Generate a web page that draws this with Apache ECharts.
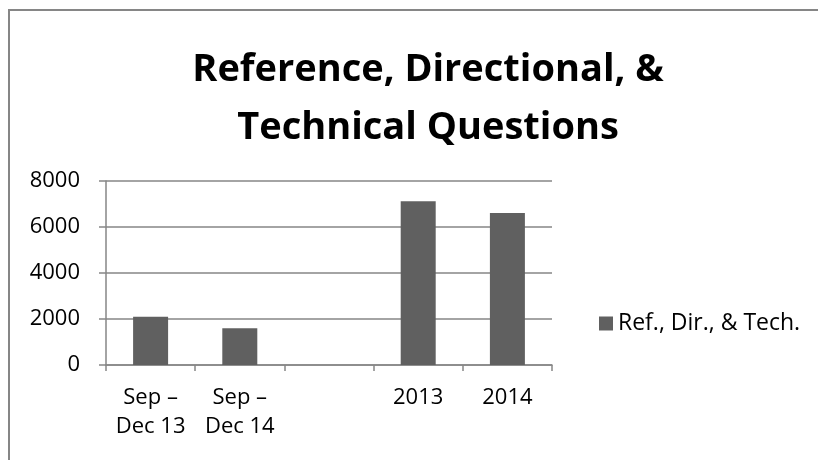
<!DOCTYPE html>
<html>
<head>
<meta charset="utf-8">
<script src="https://cdn.jsdelivr.net/npm/echarts@6/dist/echarts.min.js"></script>
<style>
  html, body { margin: 0; padding: 0; background: #fff; }
  #chart { width: 818px; height: 460px; }
</style>
</head>
<body>
<div id="chart"></div>
<script>
// chart data
const categories = ['Sep –\nDec 13', 'Sep –\nDec 14', '', '2013', '2014'];
const questions = [2100, 1600, '-', 7120, 6610];
const seriesName = 'Ref., Dir., & Tech.';
const titleText = 'Reference, Directional, &\nTechnical Questions';

const font = '"Open Sans", Lato, sans-serif';
const gray = '#868686';

const chart = echarts.init(document.getElementById('chart'));
chart.setOption({
  animation: false,
  title: {
    text: titleText,
    left: 423,
    top: 36,
    textAlign: 'center',
    textStyle: {
      fontFamily: font,
      fontWeight: 'bold',
      fontSize: 38,
      lineHeight: 58,
      color: '#000'
    }
  },
  legend: {
    left: 594,
    top: 307,
    itemWidth: 14,
    itemHeight: 14,
    itemGap: 6,
    icon: 'rect',
    textStyle: { fontFamily: font, fontSize: 23, color: '#000' },
    data: [seriesName]
  },
  grid: { left: 106, right: 266, top: 181, bottom: 95 },
  xAxis: {
    type: 'category',
    data: categories,
    axisLine: { lineStyle: { color: gray, width: 1.5 } },
    axisTick: { show: true, length: 6, lineStyle: { color: gray, width: 1.5 } },
    axisLabel: {
      interval: 0,
      margin: 18,
      fontFamily: font,
      fontSize: 22,
      lineHeight: 29,
      color: '#000'
    }
  },
  yAxis: {
    type: 'value',
    min: 0,
    max: 8000,
    interval: 2000,
    axisLine: { show: true, lineStyle: { color: gray, width: 1.5 } },
    axisTick: { show: true, length: 7, lineStyle: { color: gray, width: 1.5 } },
    splitLine: { lineStyle: { color: gray, width: 1.5 } },
    axisLabel: {
      margin: 26,
      fontFamily: font,
      fontSize: 22,
      color: '#000',
      formatter: (v) => String(v)
    }
  },
  series: [{
    name: seriesName,
    type: 'bar',
    data: questions,
    barWidth: 35,
    itemStyle: { color: '#606060' }
  }],
  graphic: [{
    type: 'rect',
    shape: { x: 9, y: 10, width: 900, height: 600 },
    style: { fill: 'none', stroke: gray, lineWidth: 2 },
    silent: true
  }]
});
</script>
</body>
</html>
